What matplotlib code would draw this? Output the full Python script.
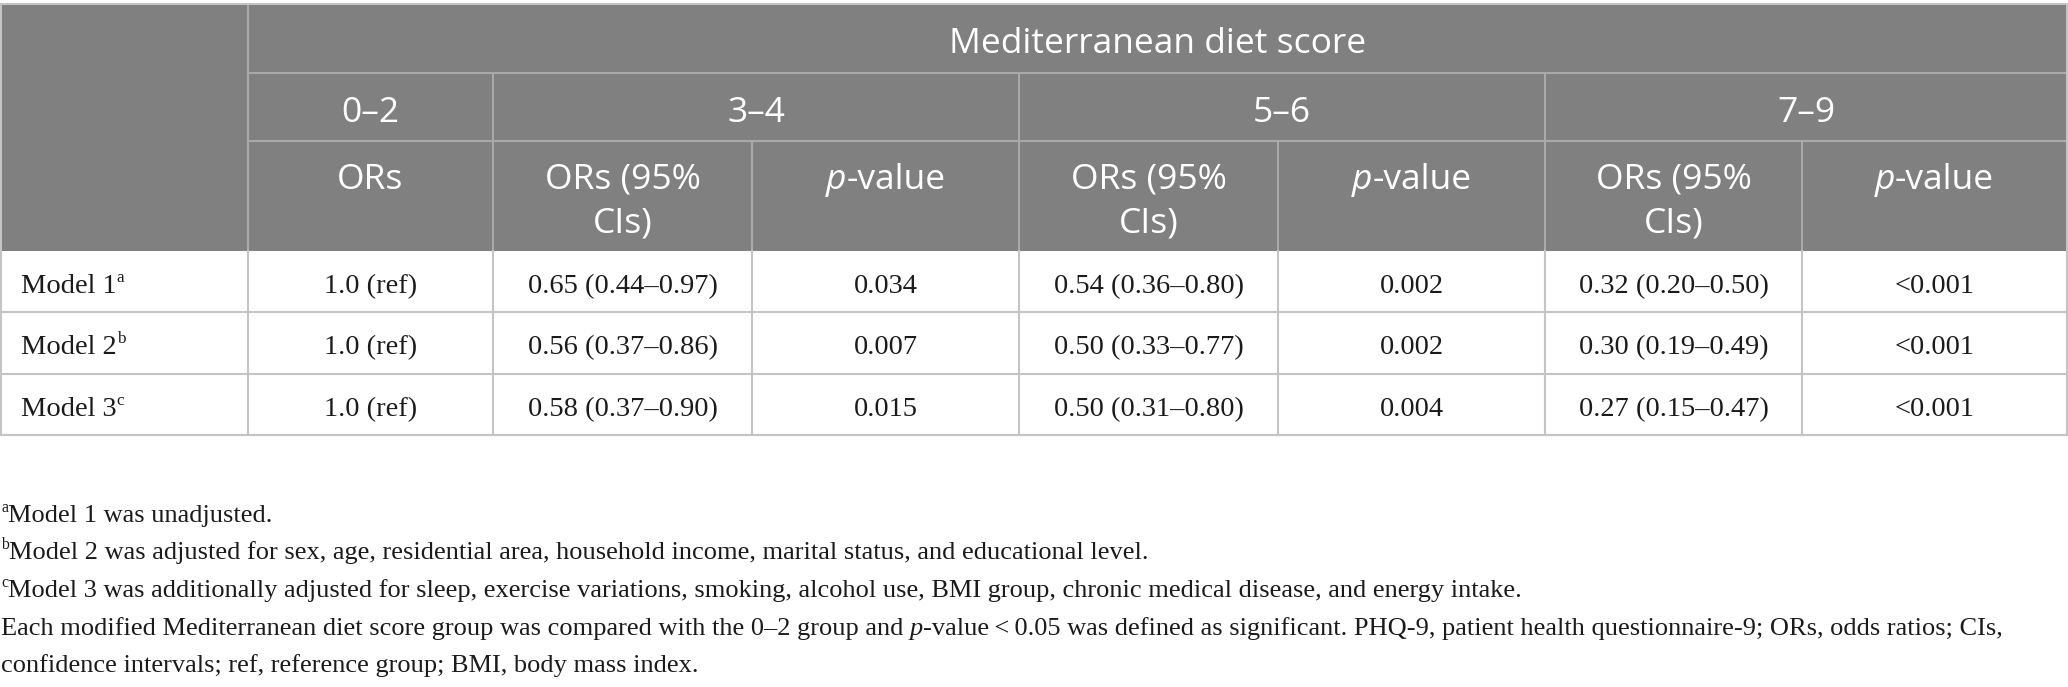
import matplotlib
matplotlib.use('Agg')
import matplotlib.pyplot as plt
from matplotlib.patches import Rectangle

# table content
group_title = 'Mediterranean diet score'
score_groups = ['0\u20132', '3\u20134', '5\u20136', '7\u20139']
row_labels = ['Model 1', 'Model 2', 'Model 3']
row_marks = ['a', 'b', 'c']
ref_vals = ['1.0 (ref)', '1.0 (ref)', '1.0 (ref)']
or_34 = ['0.65 (0.44\u20130.97)', '0.56 (0.37\u20130.86)', '0.58 (0.37\u20130.90)']
p_34 = ['0.034', '0.007', '0.015']
or_56 = ['0.54 (0.36\u20130.80)', '0.50 (0.33\u20130.77)', '0.50 (0.31\u20130.80)']
p_56 = ['0.002', '0.002', '0.004']
or_79 = ['0.32 (0.20\u20130.50)', '0.30 (0.19\u20130.49)', '0.27 (0.15\u20130.47)']
p_79 = ['<0.001', '<0.001', '<0.001']

footnotes = [
    [('a', 'sup'), ('Model 1 was unadjusted.', 'normal')],
    [('b', 'sup'), ('Model 2 was adjusted for sex, age, residential area, household income, marital status, and educational level.', 'normal')],
    [('c', 'sup'), ('Model 3 was additionally adjusted for sleep, exercise variations, smoking, alcohol use, BMI group, chronic medical disease, and energy intake.', 'normal')],
    [('Each modified Mediterranean diet score group was compared with the 0\u20132 group and ', 'normal'), ('p', 'italic'),
     ('-value\u2009<\u20090.05 was defined as significant. PHQ-9, patient health questionnaire-9; ORs, odds ratios; CIs,', 'normal')],
    [('confidence intervals; ref, reference group; BMI, body mass index.', 'normal')],
]

W, H = 2068, 687
SANS = ['Open Sans', 'DejaVu Sans']
SERIF = ['Liberation Serif', 'DejaVu Serif']
HEAD_BG = '#808080'
GRID = '#c4c4c4'
HEAD_GRID = '#a9a9a9'
INK = '#1b1b1b'

fig = plt.figure(figsize=(W / 100, H / 100), dpi=100)
ax = fig.add_axes([0, 0, 1, 1])
ax.set_xlim(0, W)
ax.set_ylim(H, 0)
ax.axis('off')
renderer = fig.canvas.get_renderer()

xs = [1, 248, 493, 752, 1019, 1278, 1545, 1802, 2067]
ys = [4, 73, 141, 251, 312, 374, 435]


def width_of(s, **kw):
    t = ax.text(0, 0, s, **kw)
    w = t.get_window_extent(renderer).width
    t.remove()
    return w


def runs(x, y, parts, ha='left', size=15, family=SERIF, color=INK):
    # draws a line made of pieces with different styles
    space = width_of('a a', fontsize=size, family=family) - width_of('aa', fontsize=size, family=family)
    items = []
    total = 0
    for s, style in parts:
        kw = dict(fontsize=size, family=family)
        dy = 0
        if style == 'sup':
            kw['fontsize'] = size * 0.6
            dy = -size * 0.55
        elif style == 'italic':
            kw['fontstyle'] = 'italic'
        lead = len(s) - len(s.lstrip(' '))
        trail = len(s) - len(s.rstrip(' '))
        core = s.strip(' ')
        w = width_of(core, **kw)
        items.append((core, kw, dy, total + lead * space))
        total += lead * space + w + trail * space
    x0 = x - total / 2 if ha == 'center' else x
    for core, kw, dy, off in items:
        ax.text(x0 + off, y + dy, core, ha='left', va='baseline', color=color, **kw)


# header background
ax.add_patch(Rectangle((0, ys[0]), W, ys[3] - ys[0], facecolor=HEAD_BG, edgecolor='none'))

# header grid
ax.plot([xs[1], xs[-1]], [ys[1], ys[1]], color=HEAD_GRID, lw=1.5)
ax.plot([xs[1], xs[-1]], [ys[2], ys[2]], color=HEAD_GRID, lw=1.5)
ax.plot([xs[1], xs[1]], [ys[0], ys[3]], color=HEAD_GRID, lw=1.5)
for i in [2, 4, 6]:
    ax.plot([xs[i], xs[i]], [ys[1], ys[3]], color=HEAD_GRID, lw=1.5)
for i in [3, 5, 7]:
    ax.plot([xs[i], xs[i]], [ys[2], ys[3]], color=HEAD_GRID, lw=1.5)

# body grid
for i in range(1, len(xs) - 1):
    ax.plot([xs[i], xs[i]], [ys[3], ys[6]], color=GRID, lw=1.5)
for j in [4, 5, 6]:
    ax.plot([xs[0], xs[-1]], [ys[j], ys[j]], color=GRID, lw=1.5)
# outer border
ax.plot([xs[0], xs[-1], xs[-1], xs[0], xs[0]], [ys[0], ys[0], ys[6], ys[6], ys[0]], color=GRID, lw=1.5)

HS = 25.5
head = dict(fontsize=HS, family=SANS, color='white', ha='center', va='baseline')
ax.text((xs[1] + xs[-1]) / 2, 53, group_title, **head)
spans = [(1, 2), (2, 4), (4, 6), (6, 8)]
for g, (a, b) in zip(score_groups, spans):
    ax.text((xs[a] + xs[b]) / 2, 122, g, **head)

ax.text((xs[1] + xs[2]) / 2, 189, 'ORs', **head)
for c in [2, 4, 6]:
    cx = (xs[c] + xs[c + 1]) / 2
    ax.text(cx, 189, 'ORs (95%', **head)
    ax.text(cx, 232, 'CIs)', **head)
    px = (xs[c + 1] + xs[c + 2]) / 2
    runs(px, 189, [('p', 'italic'), ('-value', 'normal')], ha='center', size=HS, family=SANS, color='white')

# body
BS = 20.5
columns = [ref_vals, or_34, p_34, or_56, p_56, or_79, p_79]
for r in range(len(row_labels)):
    base = 293 + r * 61.5
    runs(21, base, [(row_labels[r], 'normal'), (row_marks[r], 'sup')], size=BS)
    for c, col in enumerate(columns):
        cx = (xs[c + 1] + xs[c + 2]) / 2
        ax.text(cx, base, col[r], fontsize=BS, family=SERIF, color=INK, ha='center', va='baseline')

# footnotes
FS = 19
for i, parts in enumerate(footnotes):
    runs(1, 522 + i * 37.5, parts, size=FS)

fig.savefig('out.png', dpi=100)
